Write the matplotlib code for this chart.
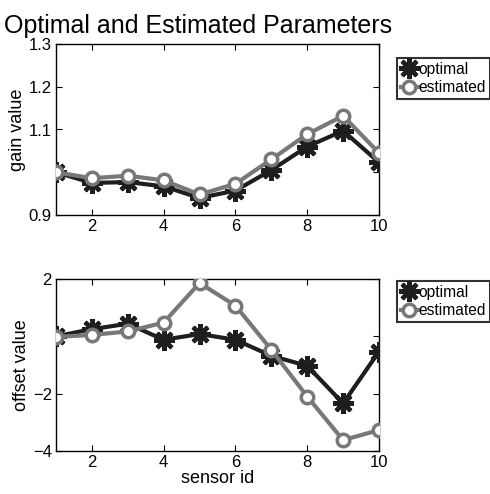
"""
Optimal vs estimated sensor parameters (gain and offset)
"""
import numpy as np
import matplotlib
matplotlib.use('Agg')
import matplotlib.pyplot as plt

plt.rcParams['font.family'] = ['Liberation Sans', 'DejaVu Sans']

sensor_id = [1, 2, 3, 4, 5, 6, 7, 8, 9, 10]
gain_optimal = [1.000, 0.975, 0.977, 0.967, 0.940, 0.957, 1.005, 1.060, 1.097, 1.023]
gain_estimated = [1.000, 0.986, 0.992, 0.981, 0.948, 0.973, 1.030, 1.089, 1.132, 1.045]
offset_optimal = [0.0, 0.25, 0.44, -0.12, 0.08, -0.12, -0.68, -1.03, -2.34, -0.53]
offset_estimated = [-0.02, 0.05, 0.17, 0.48, 1.86, 1.07, -0.47, -2.10, -3.62, -3.27]

DARK = '#1e1e1e'
GRAY = '#787878'


def draw_panel(ax, y_opt, y_est, anchor_y):
    ax.plot(sensor_id, y_opt, color=DARK, lw=3, marker=(8, 2, 0),
            ms=15, mew=3, mec=DARK, label='optimal', zorder=3)
    ax.plot(sensor_id, y_est, color=GRAY, lw=3, marker='o', ms=9,
            mew=2.5, mec=GRAY, mfc='white', label='estimated', zorder=4)
    ax.set_xlim(1, 10)
    ax.set_xticks([2, 4, 6, 8, 10])
    ax.tick_params(direction='in', length=4, labelsize=12, top=True, right=True,
                   pad=3)
    for s in ax.spines.values():
        s.set_linewidth(1.0)
    leg = ax.legend(loc='upper left', bbox_to_anchor=(1.055, anchor_y),
                    frameon=True, fancybox=False, fontsize=11.2, handlelength=1.1,
                    handletextpad=0.05, borderpad=0.25, labelspacing=0.25,
                    borderaxespad=0)
    leg.get_frame().set_edgecolor('black')
    leg.get_frame().set_linewidth(1.5)


fig = plt.figure(figsize=(4.9, 4.94), dpi=100)
ax1 = fig.add_axes([56 / 490, 1 - 215 / 494, 323 / 490, 171 / 494])
ax2 = fig.add_axes([56 / 490, 1 - 451 / 494, 323 / 490, 172 / 494])

draw_panel(ax1, gain_optimal, gain_estimated, 0.92)
ax1.set_ylim(0.9, 1.3)
ax1.set_yticks([0.9, 1.0, 1.1, 1.2, 1.3])
ax1.set_yticklabels(['0.9', '', '1.1', '1.2', '1.3'])
ax1.set_ylabel('gain value', fontsize=13, labelpad=2)

draw_panel(ax2, offset_optimal, offset_estimated, 0.99)
ax2.set_ylim(-4, 2)
ax2.set_yticks([-4, -2, 0, 2])
ax2.set_yticklabels(['\u22124', '\u22122', '', '2'])
ax2.set_ylabel('offset value', fontsize=13, labelpad=2)
ax2.set_xlabel('sensor id', fontsize=13, labelpad=0)

fig.text(0.008, 0.972, 'Optimal and Estimated Parameters', fontsize=18,
         ha='left', va='top')

fig.savefig('out.png', dpi=100)
